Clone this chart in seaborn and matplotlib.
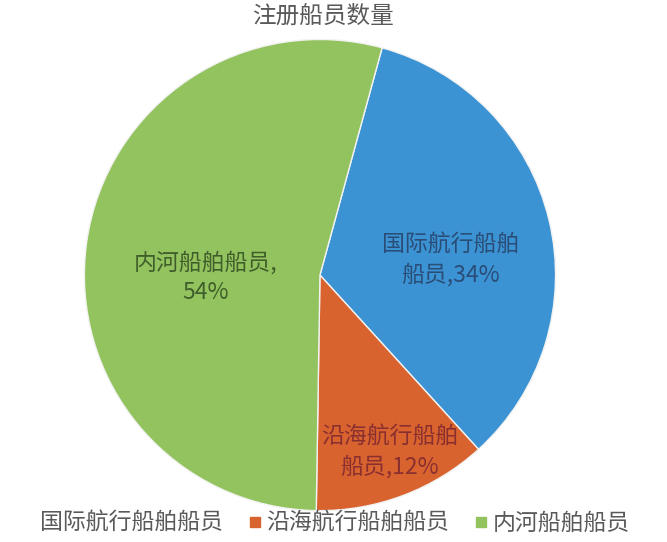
import numpy as np
import seaborn as sns
import matplotlib.pyplot as plt
from matplotlib.lines import Line2D

# data
categories = ['国际航行船舶船员', '沿海航行船舶船员', '内河船舶船员']
shares = [34, 12, 54]
slice_labels = ['国际航行船舶\n船员,34%', '沿海航行船舶\n船员,12%', '内河船舶船员,\n54%']

colors = ['#3B93D3', '#D9632E', '#93C35E']
label_colors = ['#2A4D78', '#8A2F2F', '#3F5E2B']
label_pos = [(0.555, 0.065), (0.295, -0.75), (-0.485, -0.01)]

sns.set_theme(style='white')
plt.rcParams['font.family'] = ['Noto Sans CJK SC', 'DejaVu Sans']

fig = plt.figure(figsize=(6.67, 5.42), dpi=100)
ax = fig.add_axes([0.1229, 0.0535, 0.7136, 0.878])

wedges, _ = ax.pie(shares, colors=colors, startangle=74.7, counterclock=False,
                   wedgeprops=dict(edgecolor='#f2f2f2', linewidth=1.0))
ax.set_xlim(-1.01, 1.01)
ax.set_ylim(-1.01, 1.01)
ax.set_aspect('equal')
ax.axis('off')

for txt, (x, y), c in zip(slice_labels, label_pos, label_colors):
    ax.text(x, y, txt, ha='center', va='center', fontsize=16.5, color=c,
            linespacing=1.35)

fig.text(0.484, 0.971, '注册船员数量', ha='center', va='center',
         fontsize=17, color='#595959')

# first legend marker is not visible in the reference
handles = [Line2D([], [], marker='s', linestyle='none', markersize=7,
                  color=c, alpha=a) for c, a in zip(colors, [0, 1, 1])]
fig.legend(handles, categories, loc='center left', bbox_to_anchor=(0.018, 0.035),
           ncol=3, frameon=False, fontsize=16.5, labelcolor='#595959',
           handlelength=0.6, handletextpad=0.2, columnspacing=1.1,
           borderaxespad=0)

fig.savefig('out.png', dpi=100, facecolor='white')
